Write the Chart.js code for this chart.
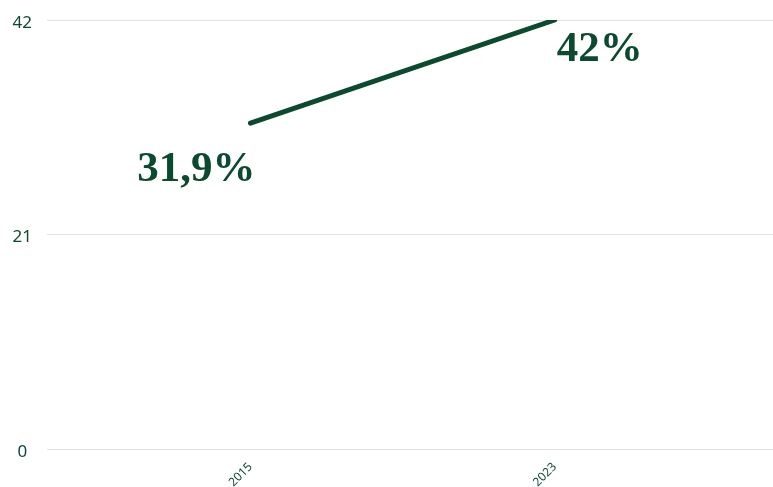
<!DOCTYPE html>
<html>
<head>
<meta charset="utf-8">
<script src="https://cdn.jsdelivr.net/npm/chart.js@4/dist/chart.umd.min.js"></script>
<style>
  html, body { margin: 0; padding: 0; background: #fff; }
  #wrap { width: 773px; height: 487px; position: relative; }
</style>
</head>
<body>
<div id="wrap"><canvas id="chart"></canvas></div>
<script>
// data
const years = [2015, 2023];
const shares = [31.9, 42];
const shareLabels = ['31,9%', '42%'];
const yTicks = [0, 21, 42];

const green = '#0b4a2f';

// big serif value labels next to each point
const valueLabels = {
    id: 'valueLabels',
    afterDatasetsDraw(chart) {
        const ctx = chart.ctx;
        const meta = chart.getDatasetMeta(0);
        ctx.save();
        ctx.fillStyle = green;
        ctx.font = 'bold 43px "Liberation Serif", serif';
        ctx.textBaseline = 'alphabetic';
        meta.data.forEach((pt, i) => {
            if (i === 0) {
                ctx.textAlign = 'right';
                ctx.fillText(shareLabels[i], pt.x + 5, pt.y + 58);
            } else {
                ctx.textAlign = 'left';
                ctx.fillText(shareLabels[i], pt.x + 2, pt.y + 41);
            }
        });
        ctx.restore();
    }
};

new Chart(document.getElementById('chart'), {
    type: 'line',
    data: {
        datasets: [{
            data: years.map((y, i) => ({ x: y, y: shares[i] })),
            borderColor: green,
            borderWidth: 5,
            borderCapStyle: 'round',
            pointRadius: 0,
            tension: 0,
            fill: false
        }]
    },
    options: {
        responsive: true,
        maintainAspectRatio: false,
        animation: false,
        layout: { padding: { top: 20, right: 0, left: 0, bottom: 0 } },
        plugins: {
            legend: { display: false },
            tooltip: { enabled: false }
        },
        scales: {
            x: {
                type: 'linear',
                min: 2009.65,
                max: 2028.74,
                afterBuildTicks: s => { s.ticks = years.map(v => ({ value: v })); },
                afterFit: s => { s.height = 38; s.paddingLeft = 0; s.paddingRight = 0; },
                grid: { display: false },
                border: { display: false },
                ticks: {
                    color: green,
                    font: { family: '"Noto Sans", sans-serif', size: 12 },
                    minRotation: 45,
                    maxRotation: 45,
                    padding: 3,
                    callback: v => String(v)
                }
            },
            y: {
                min: 0,
                max: 42,
                afterBuildTicks: s => { s.ticks = yTicks.map(v => ({ value: v })); },
                afterFit: s => { s.width = 47; s.paddingTop = 0; s.paddingBottom = 0; },
                grid: { color: '#e3e3e3', drawTicks: false, lineWidth: 1 },
                border: { display: false },
                ticks: {
                    color: green,
                    font: { family: '"Noto Sans", sans-serif', size: 17 },
                    padding: 15,
                    labelOffset: 3,
                    crossAlign: 'center'
                }
            }
        }
    },
    plugins: [valueLabels]
});
</script>
</body>
</html>
